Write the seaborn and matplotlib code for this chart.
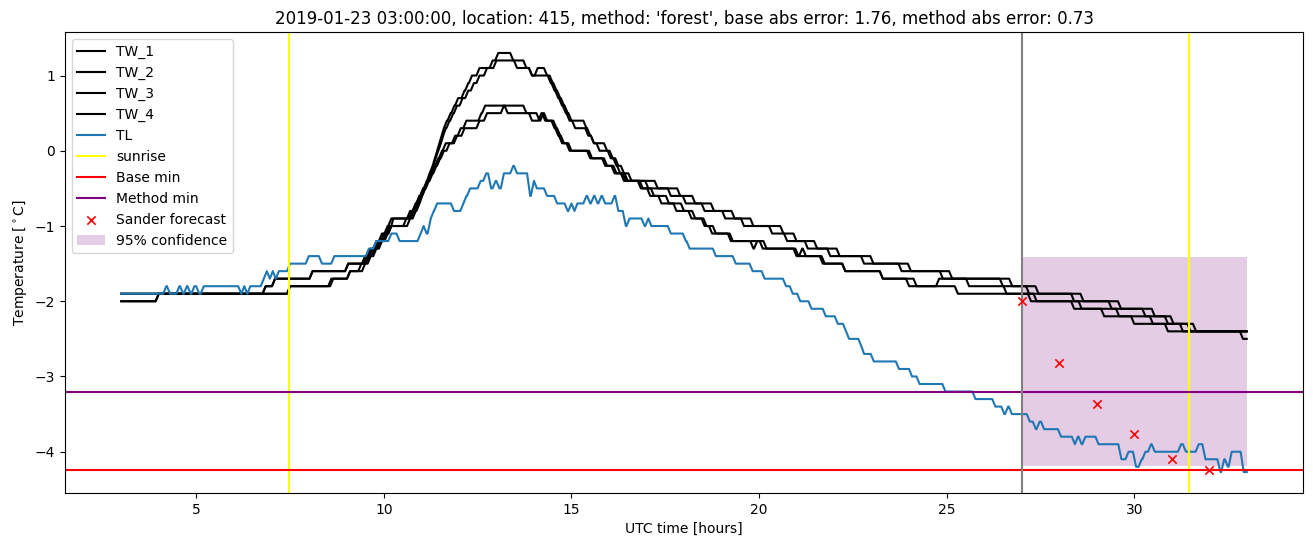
import matplotlib
matplotlib.use("Agg")
import matplotlib.pyplot as plt
import seaborn as sns
import numpy as np

# ---------------- data ----------------
t_start, t_end = 3.0, 33.0
ramp = 1 / 12  # 5-minute sampling

tw1_start = [3.0, 4.0, 6.85, 7.1, 8.1, 9.05, 9.5, 9.65, 9.8, 9.95, 10.1, 10.2, 10.75, 10.85, 10.95, 11.05, 11.15, 11.22, 11.3, 11.36, 11.42, 11.48, 11.54, 11.6, 11.68, 11.78, 11.88, 11.98, 12.15, 12.25, 12.35, 12.55, 12.9, 13.05, 13.45, 13.8, 13.95, 14.1, 14.35, 14.5, 14.6, 14.7, 14.8, 14.9, 15.0, 15.4, 15.5, 15.6, 15.95, 16.1, 16.2, 16.3, 16.45, 17.3, 17.9, 18.3, 18.8, 19.35, 19.85, 20.65, 21.0, 21.55, 22.15, 23.05, 24.05, 25.15, 26.75, 27.45, 28.65, 29.65, 30.55, 31.05, 31.65]
tw1_level = [-2.0, -1.9, -1.8, -1.7, -1.6, -1.5, -1.4, -1.3, -1.2, -1.1, -1.0, -0.9, -0.8, -0.7, -0.6, -0.5, -0.4, -0.3, -0.2, -0.1, 0.0, 0.1, 0.2, 0.3, 0.4, 0.5, 0.6, 0.7, 0.8, 0.9, 1.0, 1.1, 1.2, 1.3, 1.2, 1.1, 1.0, 1.1, 1.0, 0.9, 0.8, 0.7, 0.6, 0.5, 0.4, 0.3, 0.2, 0.1, 0.0, -0.1, -0.2, -0.3, -0.4, -0.5, -0.6, -0.7, -0.8, -0.9, -1.0, -1.1, -1.2, -1.3, -1.4, -1.5, -1.6, -1.7, -1.8, -1.9, -2.0, -2.1, -2.2, -2.3, -2.4]

tw2_start = [3.0, 4.0, 7.5, 8.6, 9.1, 9.4, 9.6, 9.75, 9.9, 10.05, 10.2, 10.7, 10.85, 10.95, 11.02, 11.1, 11.18, 11.25, 11.32, 11.38, 11.45, 11.52, 11.58, 11.65, 11.75, 11.85, 11.95, 12.1, 12.25, 12.4, 12.55, 12.75, 13.0, 13.55, 13.95, 14.45, 14.55, 14.65, 14.75, 14.85, 14.95, 15.1, 15.45, 15.6, 15.75, 16.05, 16.25, 16.4, 16.6, 17.05, 17.65, 18.05, 18.55, 19.1, 19.6, 20.35, 20.75, 21.3, 21.9, 22.8, 23.8, 24.9, 26.5, 27.2, 28.4, 29.4, 30.3, 30.9, 31.5]
tw2_level = [-2.0, -1.9, -1.8, -1.7, -1.6, -1.5, -1.4, -1.3, -1.2, -1.1, -1.0, -0.9, -0.8, -0.7, -0.6, -0.5, -0.4, -0.3, -0.2, -0.1, 0.0, 0.1, 0.2, 0.3, 0.4, 0.5, 0.6, 0.7, 0.8, 0.9, 1.0, 1.1, 1.2, 1.1, 1.0, 0.9, 0.8, 0.7, 0.6, 0.5, 0.4, 0.3, 0.2, 0.1, 0.0, -0.1, -0.2, -0.3, -0.4, -0.5, -0.6, -0.7, -0.8, -0.9, -1.0, -1.1, -1.2, -1.3, -1.4, -1.5, -1.6, -1.7, -1.8, -1.9, -2.0, -2.1, -2.2, -2.3, -2.4]

tw3_start = [3.0, 7.5, 8.65, 9.1, 9.5, 9.65, 9.8, 9.95, 10.1, 10.2, 10.25, 10.7, 10.85, 10.95, 11.05, 11.15, 11.25, 11.35, 11.45, 11.55, 11.65, 11.9, 12.05, 12.2, 12.6, 12.7, 13.8, 13.95, 14.2, 14.3, 14.55, 14.65, 14.75, 14.95, 15.55, 15.95, 16.15, 16.4, 16.85, 17.1, 17.4, 17.8, 18.2, 18.55, 18.75, 19.3, 20.2, 21.0, 21.7, 22.3, 23.3, 24.2, 24.8, 25.6, 26.6, 27.4, 28.6, 29.6, 30.5, 31.3]
tw3_level = [-1.9, -1.8, -1.7, -1.6, -1.5, -1.4, -1.3, -1.2, -1.1, -1.0, -0.9, -0.8, -0.7, -0.6, -0.5, -0.4, -0.3, -0.2, -0.1, 0.0, 0.1, 0.2, 0.3, 0.4, 0.5, 0.6, 0.5, 0.4, 0.5, 0.4, 0.3, 0.2, 0.1, 0.0, -0.1, -0.2, -0.3, -0.4, -0.5, -0.6, -0.7, -0.8, -0.9, -1.0, -1.1, -1.2, -1.3, -1.4, -1.5, -1.6, -1.7, -1.8, -1.7, -1.8, -1.9, -2.0, -2.1, -2.2, -2.3, -2.4]

tw4_start = [3.0, 6.85, 7.1, 8.1, 9.05, 9.55, 9.7, 9.85, 10.0, 10.15, 10.6, 10.8, 10.9, 11.0, 11.1, 11.2, 11.3, 11.4, 11.5, 11.6, 11.75, 11.95, 12.15, 12.55, 12.75, 13.2, 13.3, 14.15, 14.25, 14.35, 14.6, 14.7, 14.8, 15.0, 15.5, 15.9, 16.2, 16.5, 16.9, 17.2, 17.6, 18.0, 18.3, 18.6, 18.85, 19.25, 19.85, 19.95, 20.1, 21.05, 21.15, 21.25, 21.75, 22.3, 23.3, 24.0, 25.3, 27.25, 28.4, 29.2, 30.0, 30.9, 32.9]
tw4_level = [-1.9, -1.8, -1.7, -1.6, -1.5, -1.4, -1.3, -1.2, -1.1, -1.0, -0.9, -0.8, -0.7, -0.6, -0.5, -0.4, -0.3, -0.2, -0.1, 0.0, 0.1, 0.2, 0.3, 0.4, 0.5, 0.6, 0.5, 0.4, 0.5, 0.4, 0.3, 0.2, 0.1, 0.0, -0.1, -0.2, -0.3, -0.4, -0.5, -0.6, -0.7, -0.8, -0.9, -1.0, -1.1, -1.2, -1.3, -1.2, -1.3, -1.4, -1.3, -1.4, -1.5, -1.6, -1.7, -1.8, -1.9, -2.0, -2.1, -2.2, -2.3, -2.4, -2.5]

tl_start = [3.0, 4.2, 4.3, 4.55, 4.65, 4.75, 4.85, 4.95, 5.08, 5.2, 6.2, 6.28, 6.36, 6.44, 6.8, 6.88, 6.96, 7.04, 7.12, 7.2, 7.5, 8.0, 8.35, 8.68, 9.6, 9.8, 10.2, 10.42, 10.98, 11.06, 11.14, 11.25, 11.33, 11.42, 11.87, 12.12, 12.2, 12.3, 12.58, 12.73, 12.86, 12.98, 13.08, 13.2, 13.45, 13.55, 13.9, 14.0, 14.08, 14.35, 14.62, 14.9, 15.0, 15.08, 15.16, 15.4, 15.5, 15.6, 15.7, 15.8, 15.9, 16.15, 16.25, 16.45, 16.55, 16.95, 17.05, 17.13, 17.65, 18.05, 18.15, 18.85, 19.38, 19.83, 20.15, 20.72, 20.9, 21.1, 21.4, 21.78, 22.1, 22.32, 22.4, 22.73, 22.8, 23.06, 23.73, 24.08, 24.28, 24.97, 25.77, 26.3, 26.54, 26.64, 26.74, 27.22, 27.38, 27.48, 27.6, 28.05, 28.42, 28.5, 28.6, 28.7, 29.05, 29.66, 29.85, 30.05, 30.2, 30.3, 30.45, 30.55, 31.25, 31.38, 31.72, 31.9, 32.3, 32.4, 32.5, 32.6, 32.92]
tl_level = [-1.9, -1.8, -1.9, -1.8, -1.9, -1.8, -1.9, -1.8, -1.9, -1.8, -1.9, -1.8, -1.9, -1.8, -1.7, -1.6, -1.7, -1.6, -1.7, -1.6, -1.5, -1.4, -1.5, -1.4, -1.3, -1.2, -1.1, -1.2, -1.1, -1.0, -1.1, -0.9, -0.8, -0.7, -0.8, -0.7, -0.6, -0.5, -0.4, -0.3, -0.5, -0.4, -0.5, -0.3, -0.2, -0.3, -0.6, -0.4, -0.5, -0.6, -0.7, -0.8, -0.7, -0.8, -0.7, -0.6, -0.7, -0.6, -0.7, -0.6, -0.7, -0.6, -0.8, -1.0, -0.9, -1.0, -0.9, -1.0, -1.1, -1.2, -1.3, -1.4, -1.5, -1.6, -1.7, -1.8, -1.9, -2.0, -2.1, -2.2, -2.3, -2.4, -2.5, -2.6, -2.7, -2.8, -2.9, -3.0, -3.1, -3.2, -3.3, -3.4, -3.5, -3.4, -3.5, -3.6, -3.7, -3.6, -3.7, -3.8, -3.9, -3.8, -3.9, -3.8, -3.9, -4.1, -4.0, -4.2, -4.1, -4.0, -3.9, -4.0, -3.9, -4.0, -3.9, -4.1, -4.27, -4.1, -4.2, -4.0, -4.27]

sunrise_hours = [7.47, 31.46]
forecast_start = 27.0
base_min = -4.24
method_min = -3.21
forecast_hours = [27, 28, 29, 30, 31, 32]
forecast_values = [-1.99, -2.82, -3.37, -3.76, -4.10, -4.24]
conf_hours = [27.0, 33.0]
conf_low = [-4.19, -4.19]
conf_high = [-1.41, -1.41]

title = ("2019-01-23 03:00:00, location: 415, method: 'forest', "
         "base abs error: 1.76, method abs error: 0.73")


def steps_to_xy(starts, levels, end):
    xs, ys = [], []
    for i, (t, v) in enumerate(zip(starts, levels)):
        hold = starts[i + 1] - ramp if i + 1 < len(starts) else end
        xs.append(t)
        ys.append(v)
        if hold > t:
            xs.append(hold)
            ys.append(v)
    return xs, ys


# ---------------- figure ----------------
fig, ax = plt.subplots(figsize=(13.13, 5.47), dpi=100)
fig.subplots_adjust(left=0.0495, right=0.9924, top=0.9415, bottom=0.0987)

handles = {}
series = [("TW_1", tw1_start, tw1_level), ("TW_2", tw2_start, tw2_level),
          ("TW_3", tw3_start, tw3_level), ("TW_4", tw4_start, tw4_level)]
for name, st, lv in series:
    xs, ys = steps_to_xy(st, lv, t_end)
    sns.lineplot(x=xs, y=ys, color="black", estimator=None, sort=False,
                 ax=ax, label=name, linewidth=1.5)

xs, ys = steps_to_xy(tl_start, tl_level, t_end)
sns.lineplot(x=xs, y=ys, color="tab:blue", estimator=None, sort=False,
             ax=ax, label="TL", linewidth=1.5)

ax.axvline(sunrise_hours[0], color="yellow", label="sunrise")
ax.axvline(sunrise_hours[1], color="yellow")
ax.axhline(base_min, color="red", label="Base min")
ax.axhline(method_min, color="purple", label="Method min")
ax.axvline(forecast_start, color="gray")
sns.scatterplot(x=forecast_hours, y=forecast_values, marker="x", color="red",
                s=36, linewidth=1.2, ax=ax, label="Sander forecast", zorder=3)
ax.fill_between(conf_hours, conf_low, conf_high, color="purple", alpha=0.2,
                linewidth=0, label="95% confidence")

order = ["TW_1", "TW_2", "TW_3", "TW_4", "TL", "sunrise", "Base min",
         "Method min", "Sander forecast", "95% confidence"]
h, l = ax.get_legend_handles_labels()
hl = dict(zip(l, h))
ax.legend([hl[k] for k in order], order, loc="upper left")

ax.set_xlim(1.5, 34.5)
ax.set_title(title)
ax.set_xlabel("UTC time [hours]")
ax.set_ylabel(r"Temperature [$^\circ$C]")

fig.savefig("out.png", dpi=100)
